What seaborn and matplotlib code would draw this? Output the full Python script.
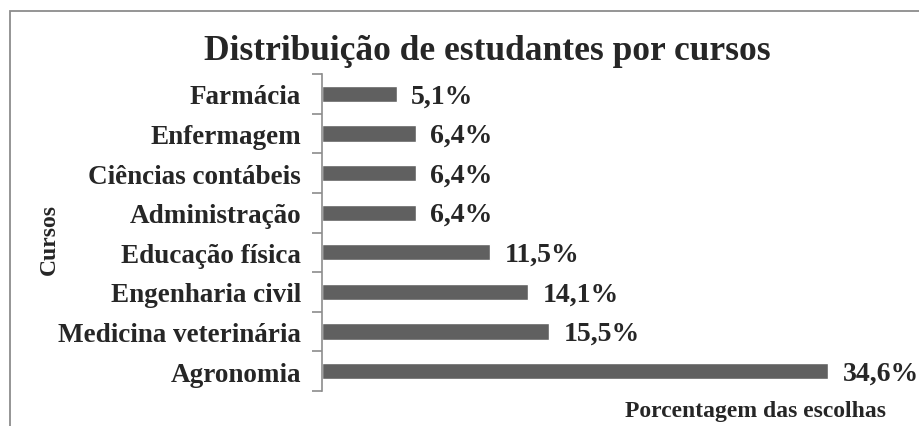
import numpy as np
import pandas as pd
import seaborn as sns
import matplotlib.pyplot as plt
from matplotlib.patches import Rectangle

cursos = ["Farmácia", "Enfermagem", "Ciências contábeis", "Administração",
          "Educação física", "Engenharia civil", "Medicina veterinária", "Agronomia"]
porcentagem = [5.1, 6.4, 6.4, 6.4, 11.5, 14.1, 15.5, 34.6]
rotulos = ["5,1%", "6,4%", "6,4%", "6,4%", "11,5%", "14,1%", "15,5%", "34,6%"]

df = pd.DataFrame({"curso": cursos, "pct": porcentagem})

sns.set_style("white")
plt.rcParams['font.family'] = ['Liberation Serif', 'DejaVu Serif']
plt.rcParams['font.weight'] = 'bold'

fig = plt.figure(figsize=(9.2, 4.27), dpi=100)
# chart frame (only left and top edges visible in the reference)
fig.patches.append(Rectangle((10/920, -0.1), 1.2, 1 - 12/427 + 0.1, transform=fig.transFigure,
                             fill=False, edgecolor="#8c8c8c", linewidth=1.3))

ax = fig.add_axes([322/920, 1 - 392/427, 585/920, 317/427])
sns.barplot(data=df, x="pct", y="curso", order=cursos, color="#606060",
            width=0.41, saturation=1, ax=ax)

ax.set_xlim(0, 40)
ax.set_ylim(7.5, -0.5)
ax.set_xticks([])
for s in ["top", "right", "bottom"]:
    ax.spines[s].set_visible(False)
ax.spines["left"].set_color("#8c8c8c")
ax.spines["left"].set_linewidth(1.2)

ax.set_yticks(np.arange(-0.5, 8, 1), minor=True)
ax.tick_params(axis="y", which="minor", length=7, width=1.2, color="#8c8c8c", left=True)
ax.tick_params(axis="y", which="major", length=0, pad=15, labelsize=19.5)
for lab in ax.get_yticklabels():
    lab.set_fontweight("bold")

for i, (v, r) in enumerate(zip(porcentagem, rotulos)):
    ax.text(v + 1.0, i + 0.05, r, va="center", ha="left", fontsize=20, fontweight="bold")

ax.set_xlabel("")
ax.set_ylabel("")
fig.text(49/920, 1 - 240/427, "Cursos", rotation=90, ha="center", va="center",
         fontsize=17, fontweight="bold")
fig.text(756/920, 1 - 412/427, "Porcentagem das escolhas", ha="center", va="center",
         fontsize=17, fontweight="bold")
fig.text(487/920, 1 - 52/427, "Distribuição de estudantes por cursos", ha="center",
         va="center", fontsize=25.5, fontweight="bold")

fig.savefig("out.png", dpi=100)
